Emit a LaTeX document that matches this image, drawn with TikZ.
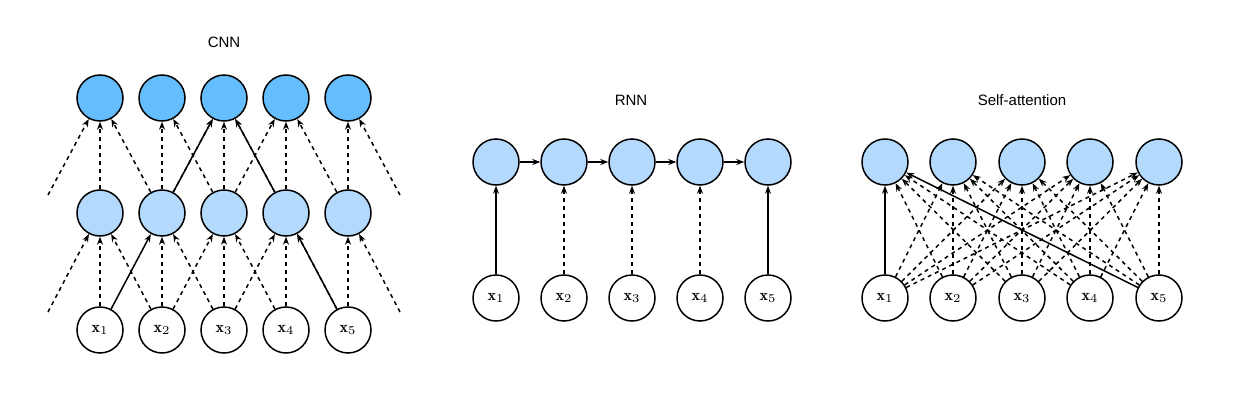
\documentclass[tikz,border=0pt]{standalone}
\usepackage{fontspec}
\newfontfamily\titlefont{Liberation Sans}
\usetikzlibrary{arrows.meta}
\definecolor{hidblue}{HTML}{B3DAFD}
\definecolor{topblue}{HTML}{64BEFD}
\tikzset{
    every picture/.append style={x=0.5pt,y=-0.5pt},
    unit/.style={
        shape=circle,
        draw=black,
        line width=0.75pt,
        minimum size=23pt,
        inner sep=0pt,
        font=\fontsize{8}{9}\selectfont
    },
    inp/.style={unit,fill=white},
    hid/.style={unit,fill=hidblue},
    top/.style={unit,fill=topblue},
    conn/.style={
        line width=0.75pt,
        -{Stealth[length=4pt,width=3pt]}
    },
    weak/.style={conn,dash pattern=on 2pt off 2pt},
    heading/.style={font=\titlefont\fontsize{7.5}{9}\selectfont}
}

\begin{document}
\begin{tikzpicture}
    \useasboundingbox (0,0) rectangle (1236,401);

    % CNN
    \node[heading] (tcnn) at (224,42) {CNN};
    \foreach \i/\x in {1/100,2/162,3/224,4/286,5/348} {
        \node[inp] (cx\i) at (\x,330) {$\mathbf{x}_{\i}$};
        \node[hid] (cm\i) at (\x,213) {};
        \node[top] (ct\i) at (\x,98) {};
    }
    \foreach \i in {1,...,5} {
        \draw[weak] (cx\i) -- (cm\i);
        \draw[weak] (cm\i) -- (ct\i);
    }
    \foreach \i/\j in {1/2,2/3,3/4,4/5} {
        \draw[weak] (cx\j) -- (cm\i);
        \draw[weak] (cm\j) -- (ct\i);
    }
    \foreach \i/\j in {2/3,3/4} {
        \draw[weak] (cx\i) -- (cm\j);
        \draw[weak] (cm\i) -- (ct\j);
    }
    \draw[conn] (cx1) -- (cm2);
    \draw[conn] (cx5) -- (cm4);
    \draw[conn] (cm2) -- (ct3);
    \draw[conn] (cm4) -- (ct3);
    % open ends
    \coordinate (sl1) at (48,312);
    \coordinate (sl2) at (48,195);
    \coordinate (sr1) at (400,312);
    \coordinate (sr2) at (400,195);
    \draw[weak] (sl1) -- (cm1);
    \draw[weak] (sl2) -- (ct1);
    \draw[weak] (sr1) -- (cm5);
    \draw[weak] (sr2) -- (ct5);

    % RNN
    \node[heading] (trnn) at (631,100) {RNN};
    \foreach \i/\x in {1/496,2/564,3/632,4/700,5/768} {
        \node[inp] (rx\i) at (\x,298) {$\mathbf{x}_{\i}$};
        \node[hid] (rh\i) at (\x,162) {};
    }
    \foreach \i/\j in {1/2,2/3,3/4,4/5}
        \draw[conn] (rh\i) -- (rh\j);
    \foreach \i in {2,3,4}
        \draw[weak] (rx\i) -- (rh\i);
    \draw[conn] (rx1) -- (rh1);
    \draw[conn] (rx5) -- (rh5);

    % self-attention
    \node[heading] (tsa) at (1022,100) {Self-attention};
    \foreach \i/\x in {1/885,2/953,3/1022,4/1090,5/1159} {
        \node[inp] (sx\i) at (\x,298) {$\mathbf{x}_{\i}$};
        \node[hid] (sh\i) at (\x,162) {};
    }
    \foreach \i in {1,...,5}
        \foreach \j in {1,...,5} {
            \ifnum\i=1 \ifnum\j=1 \else\ifnum\j=5 \else
                \draw[weak] (sx\j) -- (sh\i);
            \fi\fi
            \else
                \draw[weak] (sx\j) -- (sh\i);
            \fi
        }
    \draw[conn] (sx1) -- (sh1);
    \draw[conn] (sx5) -- (sh1);
\end{tikzpicture}
\end{document}
